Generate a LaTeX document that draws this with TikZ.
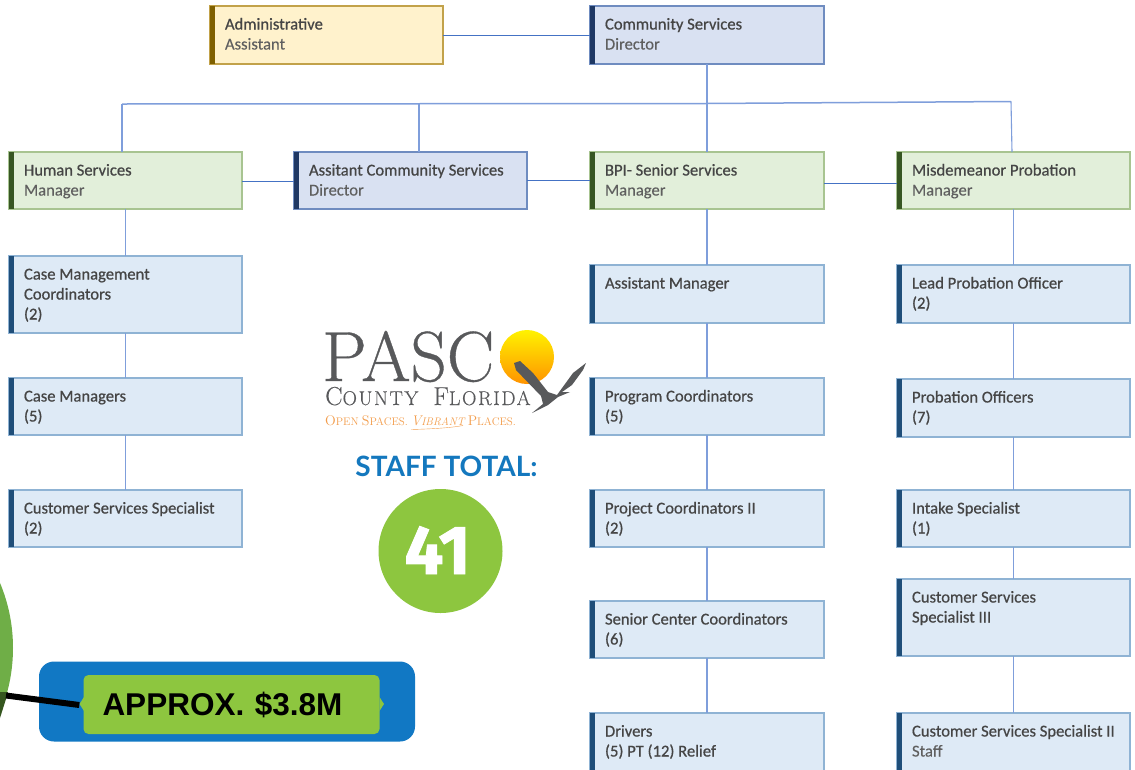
\documentclass[tikz,border=0pt]{standalone}
\usepackage{fontspec}
\newfontfamily\boxfont[FakeBold=0.25]{Carlito}
\newfontfamily\headfont[FakeBold=0.7]{Carlito}
\newfontfamily\arialb{Liberation Sans}
\newfontfamily\latof{Lato}
\newfontfamily\firaf[FakeBold=1.2]{Fira Sans}
\newfontfamily\lmheavy[FakeBold=0.5]{Latin Modern Roman}
\newfontfamily\lmspaced[FakeBold=0.2,LetterSpace=8]{Latin Modern Roman}
\definecolor{kindyfill}{HTML}{FFF2CC}\definecolor{kindyline}{HTML}{C2A24A}\definecolor{kindybar}{HTML}{7F6000}
\definecolor{kindpfill}{HTML}{D9E1F2}\definecolor{kindpline}{HTML}{6F8CC0}\definecolor{kindpbar}{HTML}{1F3864}
\definecolor{kindgfill}{HTML}{E2EFDA}\definecolor{kindgline}{HTML}{A8C491}\definecolor{kindgbar}{HTML}{375623}
\definecolor{kindbfill}{HTML}{DEEAF6}\definecolor{kindbline}{HTML}{8FB3D4}\definecolor{kindbbar}{HTML}{1F4E79}
\definecolor{linkdark}{HTML}{4472C4}\definecolor{linklight}{HTML}{7F9EDB}
\definecolor{headtxt}{HTML}{454545}\definecolor{subtxt}{HTML}{5F5F5F}
\definecolor{lime}{HTML}{8DC63F}\definecolor{deepblue}{HTML}{1178C4}\definecolor{logogray}{HTML}{58595B}
\definecolor{logoorange}{HTML}{F39C4A}\definecolor{staffblue}{HTML}{1478BE}\definecolor{leaf}{HTML}{6FAE47}\definecolor{darkleaf}{HTML}{35561F}
\tikzset{
  orgbox/.style={rectangle,draw=kind#1line,fill=kind#1fill,line width=1.1pt,anchor=north west,inner sep=0pt,outer sep=0pt},
  linkd/.style={draw=linkdark,line width=1pt},
  linkl/.style={draw=linklight,line width=1.1pt},
}
% #1 name, #2 colour key, #3 x0, #4 y0, #5 width, #6 height, #7 text
\newcommand{\orgnode}[7]{%
  \node[orgbox=#2] (#1) at (#3,#4) {\hspace{15pt}\parbox[c][#6pt][t]{\dimexpr#5pt-15pt\relax}{\fontsize{16.6}{20}\selectfont\raggedright\rule{0pt}{23.5pt}#7}};
  \fill[fill=kind#2bar] (#1.north west) rectangle ([xshift=5pt]#1.south west);
}
\newcommand{\hd}[1]{{\headfont\color{headtxt}#1}}
\newcommand{\sbt}[1]{{\boxfont\color{subtxt}#1}}
\begin{document}
\begin{tikzpicture}[x=1pt,y=-1pt]
\clip (0,0) rectangle (1135,769);
\fill[white] (0,0) rectangle (1135,769);
\orgnode{admin}{y}{210}{6}{233}{58}{\hd{Administrative}\\\sbt{Assistant}}
\orgnode{comm}{p}{590}{6}{234}{58}{\hd{Community Services}\\\sbt{Director}}
\orgnode{hs}{g}{9}{152}{233}{57}{\hd{Human Services}\\\sbt{Manager}}
\orgnode{acs}{p}{294}{152}{233}{57}{\hd{Assitant Community Services}\\\sbt{Director}}
\orgnode{bpi}{g}{590}{152}{234}{57}{\hd{BPI- Senior Services}\\\sbt{Manager}}
\orgnode{mis}{g}{897}{152}{233}{57}{\hd{Misdemeanor Probation}\\\sbt{Manager}}
\orgnode{cmc}{b}{9}{256}{233}{77}{\hd{Case Management}\\\hd{Coordinators}\\\hd{(2)}}
\orgnode{cm}{b}{9}{378}{233}{57}{\hd{Case Managers}\\\hd{(5)}}
\orgnode{css}{b}{9}{490}{233}{57}{\hd{Customer Services Specialist}\\\hd{(2)}}
\orgnode{am}{b}{590}{265}{234}{58}{\hd{Assistant Manager}}
\orgnode{pc}{b}{590}{378}{234}{57}{\hd{Program Coordinators}\\\hd{(5)}}
\orgnode{prc}{b}{590}{490}{234}{57}{\hd{Project Coordinators II}\\\hd{(2)}}
\orgnode{scc}{b}{590}{601}{234}{57}{\hd{Senior Center Coordinators}\\\hd{(6)}}
\orgnode{drv}{b}{590}{713}{234}{70}{\hd{Drivers}\\\hd{(5) PT (12) Relief}}
\orgnode{lpo}{b}{897}{265}{233}{58}{\hd{Lead Probation Officer}\\\hd{(2)}}
\orgnode{po}{b}{897}{379}{233}{58}{\hd{Probation Officers}\\\hd{(7)}}
\orgnode{isp}{b}{897}{490}{233}{57}{\hd{Intake Specialist}\\\hd{(1)}}
\orgnode{c3}{b}{897}{579}{233}{77}{\hd{Customer Services}\\\hd{Specialist III}}
\orgnode{c2}{b}{897}{713}{233}{70}{\hd{Customer Services Specialist II}\\\sbt{Staff}}
% connectors
\coordinate (busl) at (122,104);
\coordinate (busm) at (419,104);
\coordinate (busc) at (707,103.5);
\coordinate (busr) at (1011,101.5);
\draw[linkd] (admin.east |- 0,35) -- (comm.west |- 0,35);
\draw[linkl] (comm.south) -- (bpi.north);
\draw[linkl,line width=1.5pt] (busl) -- (busc) -- (busr);
\draw[linkl] (busl) -- (busl |- hs.north);
\draw[linkl] (busm) -- (busm |- acs.north);
\draw[linkl] (busr) -- ([xshift=1pt]busr |- mis.north);
\draw[linkd] (hs.east |- 0,181) -- (acs.west |- 0,181);
\draw[linkd] (acs.east |- 0,180) -- (bpi.west |- 0,180);
\draw[linkd] (bpi.east |- 0,183) -- (mis.west |- 0,183);
\foreach \a/\b in {hs/cmc,cmc/cm,cm/css,bpi/am,am/pc,pc/prc,prc/scc,scc/drv,mis/lpo,lpo/po,po/isp,isp/c3,c3/c2}
  \draw[linkl] (\a.south) -- (\b.north);
% logo
\node[anchor=base west,inner sep=0pt,text=logogray,font=\lmheavy\fontsize{71}{71}\selectfont] (pasc) at (322,381) {PASC};
\shade[top color=yellow!90!orange,bottom color=orange!85!yellow] (527,357) circle (27);
\node[anchor=base west,inner sep=0pt,text=logogray] (county) at (325,405)
  {\lmspaced{\fontsize{26}{26}\selectfont C}{\fontsize{20}{20}\selectfont OUNTY}\hspace{15pt}{\fontsize{26}{26}\selectfont F}{\fontsize{20}{20}\selectfont LORIDA}};
\node[anchor=base west,inner sep=0pt,text=logoorange,font=\rmfamily] (tagline) at (325,425.5)
  {{\fontsize{14}{14}\selectfont O}{\fontsize{11}{11}\selectfont PEN} {\fontsize{14}{14}\selectfont S}{\fontsize{11}{11}\selectfont PACES.} {\itshape\fontsize{14}{14}\selectfont V}{\itshape\fontsize{11}{11}\selectfont IBRANT} {\fontsize{14}{14}\selectfont P}{\fontsize{11}{11}\selectfont LACES.}};
\draw[logoorange,line width=0.4pt] (411,429.5) .. controls (430,429) and (450,428) .. (463,425.5);
\fill[logogray] (514,363) -- (520,361) -- (533,373) -- (548,392) -- (557,395) -- (573,373) -- (586,363) -- (583,370) -- (572,385) -- (562,392) -- (570,392) -- (558,397) -- (548,405) -- (532,413) -- (543,404) -- (541,396) -- (516,370) -- cycle;
% staff total
\node[inner sep=0pt,anchor=base,text=staffblue,font=\latof\bfseries\fontsize{28}{28}\selectfont] (stafftotal) at (446.5,476) {STAFF TOTAL:};
\node[circle,fill=lime,minimum size=124pt,inner sep=0pt] (total) at (440.5,551) {};
\node[inner sep=0pt,anchor=base,text=white,font=\firaf\bfseries\fontsize{69}{69}\selectfont] (totalnum) at (437.5,574) {41};
% budget tag
\node[rectangle,rounded corners=15pt,fill=deepblue,minimum width=376pt,minimum height=80pt,inner sep=0pt] (panel) at (227,701.5) {};
\node[circle,fill=leaf,minimum size=338pt,inner sep=0pt] (bigc) at (-156,648) {};
\fill[darkleaf] (0,692) -- (8,692) -- (6,699) -- (0,718) -- cycle;
\fill[lime] (379.5,697) -- (384,704) -- (379.5,711) -- cycle;
\fill[lime] (84,697) -- (79.5,704) -- (84,711) -- cycle;
\node[rectangle,rounded corners=5pt,fill=lime,minimum width=296pt,minimum height=59pt,inner xsep=19pt,inner ysep=0pt,text width=258pt,align=left,text=black,font=\arialb\bfseries\fontsize{31.5}{31.5}\selectfont] (tag) at (231.5,704.5) {APPROX. \$3.8M};
\coordinate (bigedge) at (6,695.5);
\draw[black,line width=6pt] (bigedge) -- ([xshift=-4pt,yshift=-0.5pt]tag.west);
\end{tikzpicture}
\end{document}
